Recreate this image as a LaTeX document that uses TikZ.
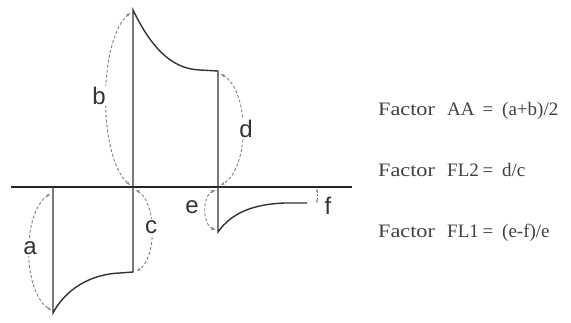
\documentclass[tikz,border=0pt]{standalone}
\usepackage{fontspec}
\setmainfont{Liberation Serif}
\newfontfamily\labfont{Liberation Sans}
\usetikzlibrary{arrows.meta}
\begin{document}
\begin{tikzpicture}[x=1pt,y=-1pt,
  solidline/.style={line width=1.4pt,draw=black!80},
  axisline/.style={line width=2.8pt,draw=black!85},
  dimarc/.style={draw=black!50,line width=0.9pt,dash pattern=on 3pt off 2pt,
    {Stealth[length=4pt,width=3pt]}-{Stealth[length=4pt,width=3pt]}},
  lab/.style={font=\labfont\fontsize{24}{24}\selectfont,text=black!80,inner sep=1pt,fill=white},
  ftext/.style={anchor=base west,inner sep=0pt,text=black!75,font=\fontsize{19}{19}\selectfont},
  feq/.style={anchor=base,inner sep=0pt,text=black!75,font=\fontsize{19}{19}\selectfont}]
\useasboundingbox (0,0) rectangle (571,322);
% key points
\coordinate (axL) at (11,187);
\coordinate (axR) at (352,187);
\coordinate (p1a) at (53,187);
\coordinate (p1b) at (53,313);
\coordinate (p2a) at (133,10);
\coordinate (p2b) at (133,272);
\coordinate (p3a) at (218,71);
\coordinate (p3b) at (218,232);
\coordinate (eEnd) at (307,203);
% axis
\draw[axisline] (axL) -- (axR);
% signal
\draw[solidline] (p1a) -- (p1b) .. controls (65,290) and (90,274) .. (120,273) -- (p2b) -- (p2a)
  .. controls (150,45) and (170,69) .. (200,70) -- (p3a) -- (p3b)
  .. controls (232,212) and (255,204) .. (285,203) -- (eEnd);
% dimension arcs
\draw[dimarc] (50,194) .. controls (22,212) and (22,292) .. (51,310);
\draw[dimarc] (130,13) .. controls (98,40) and (98,158) .. (130,185);
\draw[dimarc] (136,190) .. controls (157,203) and (157,258) .. (137,271);
\draw[dimarc] (221,74) .. controls (250,91) and (250,168) .. (221,185);
\draw[dimarc] (215,190) .. controls (202,196) and (202,224) .. (215,230);
\coordinate (fTop) at (317,189);
\coordinate (fBot) at (317,203);
\draw[draw=black!50,line width=0.8pt,dash pattern=on 2pt off 1.5pt,
  {Stealth[length=3pt,width=2.5pt]}-{Stealth[length=3pt,width=2.5pt]}] (fTop) -- (fBot);
% labels
\node[lab] (la) at (30,248) {a};
\node[lab] (lb) at (99,96) {b};
\node[lab] (lc) at (151,227) {c};
\node[lab] (ld) at (246,129) {d};
\node[lab] (le) at (192,207) {e};
\node[lab,fill=none] (lf) at (328,206) {f};
% formulas
\node[ftext] (facAA) at (378,115) {\scalebox{1.17}[1]{Factor}};
\node[ftext] (namAA) at (447,115) {AA};
\node[feq] (eqAA) at (488,115) {=};
\node[ftext] (exAA) at (502,115) {(a+b)/2};
\node[ftext] (facFLb) at (378,176) {\scalebox{1.17}[1]{Factor}};
\node[ftext] (namFLb) at (447,176) {FL2};
\node[feq] (eqFLb) at (488,176) {=};
\node[ftext] (exFLb) at (502,176) {d/c};
\node[ftext] (facFLa) at (378,237) {\scalebox{1.17}[1]{Factor}};
\node[ftext] (namFLa) at (447,237) {FL1};
\node[feq] (eqFLa) at (488,237) {=};
\node[ftext] (exFLa) at (502,237) {(e-f)/e};
\end{tikzpicture}
\end{document}
